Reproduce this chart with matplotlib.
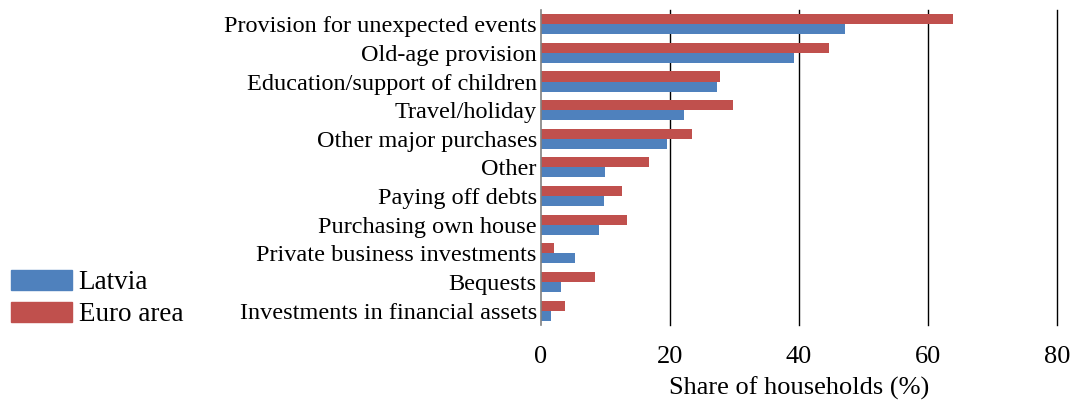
import numpy as np
import matplotlib.pyplot as plt
from matplotlib.patches import Patch

plt.rcParams['font.family'] = ['Liberation Serif', 'DejaVu Serif']

categories = [
    'Provision for unexpected events',
    'Old-age provision',
    'Education/support of children',
    'Travel/holiday',
    'Other major purchases',
    'Other',
    'Paying off debts',
    'Purchasing own house',
    'Private business investments',
    'Bequests',
    'Investments in financial assets',
]
latvia = [47.2, 39.3, 27.3, 22.2, 19.6, 10.0, 9.8, 9.0, 5.2, 3.1, 1.6]
euro_area = [63.8, 44.6, 27.7, 29.8, 23.4, 16.8, 12.6, 13.3, 2.0, 8.4, 3.8]

blue = '#4F81BD'
red = '#C0504D'

fig = plt.figure(figsize=(10.83, 4.04), dpi=100)
ax = fig.add_axes([0.4995, 0.1955, 0.4765, 0.78])

y = np.arange(len(categories))
h = 0.35
ax.barh(y - h / 2, euro_area, height=h, color=red, zorder=3)
ax.barh(y + h / 2, latvia, height=h, color=blue, zorder=3)

ax.set_xlim(0, 80)
ax.set_ylim(len(categories) - 0.5, -0.5)
ax.set_xticks([0, 20, 40, 60, 80])
ax.set_yticks(y)
ax.set_yticklabels(categories)
ax.tick_params(axis='y', length=0, pad=3, labelsize=17.5)
ax.tick_params(axis='x', length=0, pad=15, labelsize=19)

for s in ['top', 'right', 'bottom']:
    ax.spines[s].set_visible(False)
ax.spines['left'].set_color('#808080')
ax.spines['left'].set_linewidth(1.2)
ax.spines['left'].set_zorder(4)

for v in [20, 40, 60, 80]:
    ax.axvline(v, color='black', linewidth=1.0, zorder=1, clip_on=False)

ax.set_xlabel('Share of households (%)', fontsize=19, labelpad=6)

handles = [Patch(color=blue, label='Latvia'), Patch(color=red, label='Euro area')]
fig.legend(handles=handles, loc='lower left', bbox_to_anchor=(0.01, 0.19),
           frameon=False, fontsize=19.5, handlelength=2.25, handleheight=0.75,
           handletextpad=0.25, labelspacing=0.25, borderaxespad=0, borderpad=0)

fig.savefig('out.png', dpi=100)
